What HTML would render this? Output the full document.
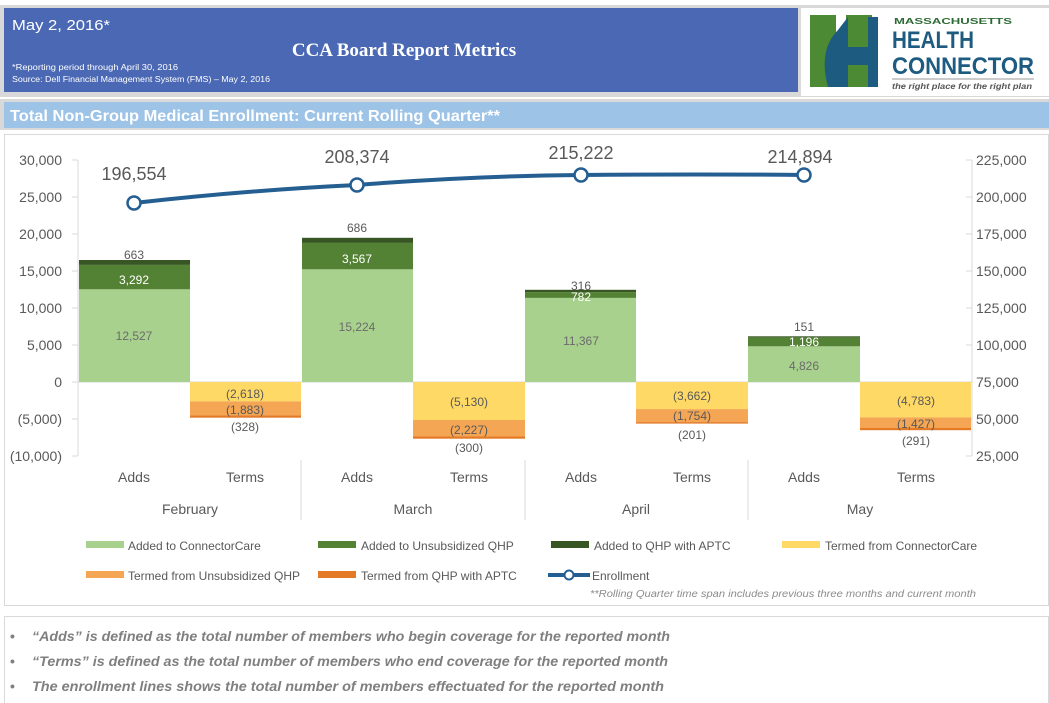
<!DOCTYPE html>
<html><head><meta charset="utf-8"><style>
html,body{margin:0;padding:0;background:#fff;}
svg{display:block;font-family:"Liberation Sans",sans-serif;}
</style></head><body>
<svg width="1049" height="703" viewBox="0 0 1049 703" xmlns="http://www.w3.org/2000/svg">
<rect width="1049" height="703" fill="#fff"/>
<!-- header -->
<rect x="0" y="5" width="1049" height="92" fill="#d9d9d9"/>
<rect x="4" y="8" width="794" height="84" fill="#4a68b4"/>
<rect x="801" y="8" width="248" height="88" fill="#fff"/>
<text x="12" y="30" font-size="15" fill="#fff" textLength="98" lengthAdjust="spacingAndGlyphs">May 2, 2016*</text>
<text x="404" y="56" font-size="19" font-weight="bold" fill="#fff" text-anchor="middle" font-family="Liberation Serif,serif">CCA Board Report Metrics</text>
<text x="12" y="70" font-size="8" fill="#fff" textLength="166" lengthAdjust="spacingAndGlyphs">*Reporting period through April 30, 2016</text>
<text x="12" y="82" font-size="8" fill="#fff" textLength="258" lengthAdjust="spacingAndGlyphs">Source: Dell Financial Management System (FMS) – May 2, 2016</text>
<!-- logo -->
<rect x="810" y="15" width="26" height="72" fill="#4d8a34"/>
<rect x="846" y="15" width="26" height="72" fill="#4d8a34"/>
<path d="M838 30 q-20 20 -10 57 h20 v-22 h20 v22 h10 v-70 h-10 v30 h-20 v-30 z" fill="#1e5b80"/>
<text x="894" y="24" font-size="8" font-weight="bold" fill="#2d6b35" textLength="118" lengthAdjust="spacingAndGlyphs">MASSACHUSETTS</text>
<text x="892" y="48" font-size="24" font-weight="bold" fill="#1e5b80" textLength="82" lengthAdjust="spacingAndGlyphs">HEALTH</text>
<text x="892" y="74" font-size="24" font-weight="bold" fill="#1e5b80" textLength="142" lengthAdjust="spacingAndGlyphs">CONNECTOR</text>
<line x1="892" y1="79" x2="1034" y2="79" stroke="#999"/>
<text x="892" y="89" font-size="8" font-style="italic" font-weight="bold" fill="#555" textLength="140" lengthAdjust="spacingAndGlyphs">the right place for the right plan</text>
<!-- section bar -->
<rect x="0" y="99" width="1049" height="31" fill="#d9d9d9"/>
<rect x="4" y="102" width="1045" height="26" fill="#9dc3e6"/>
<text x="10" y="121" font-size="16" font-weight="bold" fill="#fff" textLength="490" lengthAdjust="spacingAndGlyphs">Total Non-Group Medical Enrollment: Current Rolling Quarter**</text>
<!-- chart box -->
<rect x="4.5" y="134.5" width="1044" height="471" fill="#fff" stroke="#d9d9d9"/>
<!-- axes ticks -->
<g font-size="14" fill="#595959">
<g text-anchor="end">
<text x="62" y="165">30,000</text><text x="62" y="202">25,000</text><text x="62" y="239">20,000</text><text x="62" y="276">15,000</text><text x="62" y="313">10,000</text><text x="62" y="350">5,000</text><text x="62" y="387">0</text><text x="62" y="424">(5,000)</text><text x="62" y="461">(10,000)</text>
</g>
<g text-anchor="start">
<text x="976" y="165">225,000</text><text x="976" y="202">200,000</text><text x="976" y="239">175,000</text><text x="976" y="276">150,000</text><text x="976" y="313">125,000</text><text x="976" y="350">100,000</text><text x="976" y="387">75,000</text><text x="976" y="424">50,000</text><text x="976" y="461">25,000</text>
</g>
</g>
<g stroke="#d9d9d9">
<line x1="78" y1="160" x2="78" y2="456"/><line x1="972" y1="160" x2="972" y2="456"/>
<line x1="72" y1="160" x2="78" y2="160"/><line x1="72" y1="197" x2="78" y2="197"/><line x1="72" y1="234" x2="78" y2="234"/><line x1="72" y1="271" x2="78" y2="271"/><line x1="72" y1="308" x2="78" y2="308"/><line x1="72" y1="345" x2="78" y2="345"/><line x1="72" y1="382" x2="78" y2="382"/><line x1="72" y1="419" x2="78" y2="419"/><line x1="72" y1="456" x2="78" y2="456"/>
<line x1="972" y1="160" x2="966" y2="160"/><line x1="972" y1="197" x2="966" y2="197"/><line x1="972" y1="234" x2="966" y2="234"/><line x1="972" y1="271" x2="966" y2="271"/><line x1="972" y1="308" x2="966" y2="308"/><line x1="972" y1="345" x2="966" y2="345"/><line x1="972" y1="382" x2="966" y2="382"/><line x1="972" y1="419" x2="966" y2="419"/><line x1="972" y1="456" x2="966" y2="456"/>
<line x1="78" y1="382" x2="972" y2="382"/>
<line x1="301" y1="460" x2="301" y2="520"/><line x1="525" y1="460" x2="525" y2="520"/><line x1="748" y1="460" x2="748" y2="520"/>
</g>
<!-- bars -->
<g>
<rect x="79" y="289.3" width="111" height="92.7" fill="#a9d18e"/>
<rect x="79" y="264.9" width="111" height="24.4" fill="#548235"/>
<rect x="79" y="260" width="111" height="4.9" fill="#375623"/>
<rect x="190" y="382" width="111" height="19.4" fill="#ffd966"/>
<rect x="190" y="401.4" width="111" height="13.9" fill="#f4a654"/>
<rect x="190" y="415.3" width="111" height="2.4" fill="#e47a26"/>
<rect x="302" y="269.3" width="111" height="112.7" fill="#a9d18e"/>
<rect x="302" y="242.9" width="111" height="26.4" fill="#548235"/>
<rect x="302" y="237.8" width="111" height="5.1" fill="#375623"/>
<rect x="413" y="382" width="112" height="38" fill="#ffd966"/>
<rect x="413" y="420" width="112" height="16.5" fill="#f4a654"/>
<rect x="413" y="436.5" width="112" height="2.2" fill="#e47a26"/>
<rect x="525" y="297.9" width="111" height="84.1" fill="#a9d18e"/>
<rect x="525" y="292.1" width="111" height="5.8" fill="#548235"/>
<rect x="525" y="289.8" width="111" height="2.3" fill="#375623"/>
<rect x="636" y="382" width="112" height="27.1" fill="#ffd966"/>
<rect x="636" y="409.1" width="112" height="13" fill="#f4a654"/>
<rect x="636" y="422.1" width="112" height="1.5" fill="#e47a26"/>
<rect x="748" y="346.3" width="112" height="35.7" fill="#a9d18e"/>
<rect x="748" y="337.4" width="112" height="8.9" fill="#548235"/>
<rect x="748" y="336.3" width="112" height="1.1" fill="#375623"/>
<rect x="860" y="382" width="111" height="35.4" fill="#ffd966"/>
<rect x="860" y="417.4" width="111" height="10.6" fill="#f4a654"/>
<rect x="860" y="428" width="111" height="2.2" fill="#e47a26"/>
</g>
<!-- bar labels -->
<g font-size="12" text-anchor="middle" fill="#595959">
<text x="134" y="259">663</text><text x="134" y="284" fill="#fff">3,292</text><text x="134" y="340" fill="#6b6b6b">12,527</text>
<text x="245" y="398">(2,618)</text><text x="245" y="414">(1,883)</text><text x="245" y="431">(328)</text>
<text x="357" y="232">686</text><text x="357" y="263" fill="#fff">3,567</text><text x="357" y="331" fill="#6b6b6b">15,224</text>
<text x="469" y="406">(5,130)</text><text x="469" y="434">(2,227)</text><text x="469" y="452">(300)</text>
<text x="581" y="290">316</text><text x="581" y="301" fill="#fff">782</text><text x="581" y="345" fill="#6b6b6b">11,367</text>
<text x="692" y="400">(3,662)</text><text x="692" y="420">(1,754)</text><text x="692" y="439">(201)</text>
<text x="804" y="331">151</text><text x="804" y="346" fill="#fff">1,196</text><text x="804" y="370" fill="#6b6b6b">4,826</text>
<text x="916" y="405">(4,783)</text><text x="916" y="428">(1,427)</text><text x="916" y="445">(291)</text>
</g>
<!-- enrollment line -->
<path d="M134 203 Q250 190 357 185 Q470 176 581 175 Q700 174 804 175" fill="none" stroke="#255e91" stroke-width="4"/>
<g fill="#fff" stroke="#255e91" stroke-width="2.5">
<circle cx="134" cy="203" r="6.5"/><circle cx="357" cy="185" r="6.5"/><circle cx="581" cy="175" r="6.5"/><circle cx="804" cy="175" r="6.5"/>
</g>
<g font-size="18" fill="#595959" text-anchor="middle">
<text x="134" y="180">196,554</text><text x="357" y="163">208,374</text><text x="581" y="159">215,222</text><text x="800" y="163">214,894</text>
</g>
<!-- categories -->
<g font-size="14" fill="#595959" text-anchor="middle">
<text x="134" y="482">Adds</text><text x="245" y="482">Terms</text><text x="357" y="482">Adds</text><text x="469" y="482">Terms</text>
<text x="581" y="482">Adds</text><text x="692" y="482">Terms</text><text x="804" y="482">Adds</text><text x="916" y="482">Terms</text>
<text x="190" y="514">February</text><text x="413" y="514">March</text><text x="636" y="514">April</text><text x="860" y="514">May</text>
</g>
<!-- legend -->
<g font-size="12" fill="#595959">
<rect x="86" y="541" width="38" height="7" fill="#a9d18e"/><text x="128" y="550">Added to ConnectorCare</text>
<rect x="318" y="541" width="38" height="7" fill="#548235"/><text x="361" y="550">Added to Unsubsidized QHP</text>
<rect x="551" y="541" width="38" height="7" fill="#375623"/><text x="594" y="550">Added to QHP with APTC</text>
<rect x="782" y="541" width="38" height="7" fill="#ffd966"/><text x="825" y="550">Termed from ConnectorCare</text>
<rect x="86" y="571" width="38" height="7" fill="#f4a654"/><text x="128" y="580">Termed from Unsubsidized QHP</text>
<rect x="318" y="571" width="38" height="7" fill="#e47a26"/><text x="361" y="580">Termed from QHP with APTC</text>
<line x1="548" y1="575" x2="590" y2="575" stroke="#255e91" stroke-width="4"/>
<circle cx="569" cy="575" r="4.5" fill="#fff" stroke="#255e91" stroke-width="2"/>
<text x="592" y="580">Enrollment</text>
<text x="590" y="597" font-size="10" font-style="italic" fill="#8c8c8c" textLength="386" lengthAdjust="spacingAndGlyphs">**Rolling Quarter time span includes previous three months and current month</text>
</g>
<!-- notes -->
<rect x="4.5" y="616.5" width="1044" height="90" fill="#fff" stroke="#d9d9d9"/>
<g font-size="14" font-style="italic" font-weight="bold" fill="#7f7f7f">
<text x="10" y="641" font-style="normal">•</text><text x="32" y="641" textLength="638" lengthAdjust="spacingAndGlyphs">“Adds” is defined as the total number of members who begin coverage for the reported month</text>
<text x="10" y="666" font-style="normal">•</text><text x="32" y="666" textLength="636" lengthAdjust="spacingAndGlyphs">“Terms” is defined as the total number of members who end coverage for the reported month</text>
<text x="10" y="691" font-style="normal">•</text><text x="32" y="691" textLength="632" lengthAdjust="spacingAndGlyphs">The enrollment lines shows the total number of members effectuated for the reported month</text>
</g>
</svg>
</body></html>
